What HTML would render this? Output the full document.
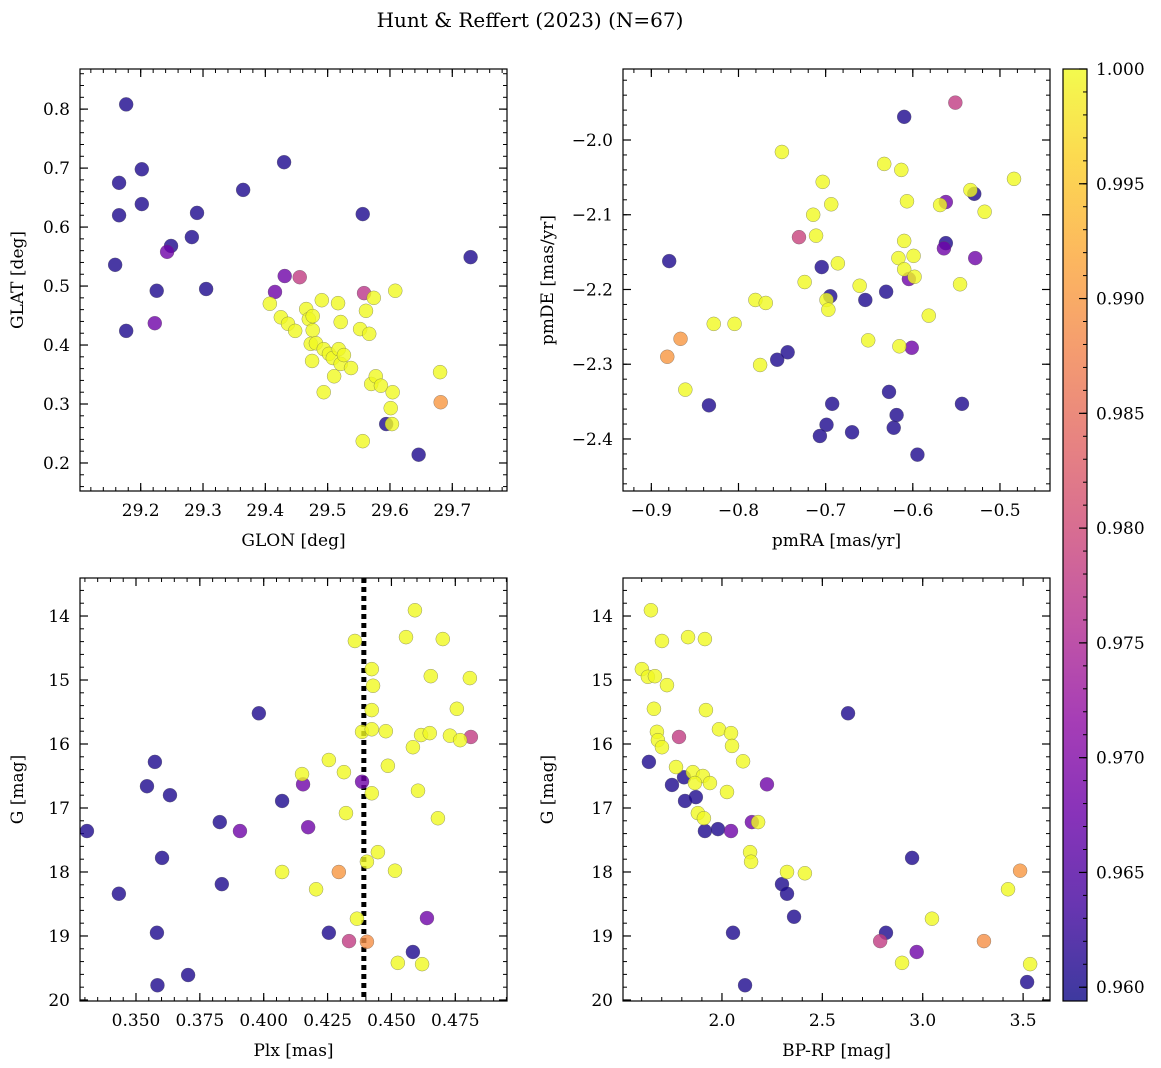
<!DOCTYPE html>
<html><head><meta charset="utf-8">
<style>
body{margin:0;background:#fff;}
svg{display:block;font-family:"DejaVu Serif","Liberation Serif",serif;}
</style></head>
<body>
<svg id="fig" width="1161" height="1068" viewBox="0 0 1161 1068">
<text x="530" y="27" text-anchor="middle" font-size="20">Hunt &amp; Reffert (2023) (N=67)</text>
</svg>
<script>
// ---- data ----
const p1_glon=[29.1767,29.1653,29.2018,29.1653,29.2018,29.159,29.1767,29.2257,29.2487,29.2821,29.2904,29.305,29.3644,29.4301,29.5563,29.5939,29.646,29.7294,29.2424,29.2226,29.4155,29.4311,29.4552,29.5584,29.6814,29.4072,29.4249,29.4364,29.4479,29.4656,29.4698,29.476,29.476,29.4729,29.475,29.4812,29.4937,29.4906,29.5167,29.5021,29.5083,29.4937,29.5104,29.5177,29.5209,29.5209,29.5261,29.5375,29.5521,29.5615,29.574,29.5667,29.5699,29.5772,29.5855,29.5563,29.6032,29.6043,29.6012,29.6085,29.6804];
const p1_glat=[0.808,0.675,0.698,0.620,0.639,0.536,0.424,0.492,0.568,0.583,0.624,0.495,0.663,0.710,0.622,0.266,0.214,0.549,0.558,0.437,0.490,0.517,0.515,0.488,0.303,0.470,0.447,0.436,0.424,0.461,0.444,0.449,0.425,0.402,0.373,0.403,0.393,0.476,0.471,0.385,0.378,0.320,0.347,0.393,0.439,0.368,0.383,0.361,0.427,0.458,0.480,0.419,0.334,0.347,0.331,0.237,0.266,0.320,0.293,0.492,0.354];
const p1_prob=[0.9605,0.9605,0.9605,0.9605,0.9605,0.9605,0.9605,0.9605,0.9605,0.9605,0.9605,0.9605,0.9605,0.9605,0.9605,0.9605,0.9605,0.9605,0.968,0.968,0.968,0.968,0.978,0.977,0.99,1,1,1,1,1,1,1,1,1,1,1,1,1,1,1,1,1,1,1,1,1,1,1,1,1,1,1,1,1,1,1,1,1,1,1,1];
const p2_pmra=[-0.6099,-0.8795,-0.8339,-0.7556,-0.7436,-0.7045,-0.6947,-0.6545,-0.6219,-0.6186,-0.6273,-0.5947,-0.6306,-0.5436,-0.5295,-0.5621,-0.6925,-0.699,-0.7066,-0.6697,-0.5643,-0.5284,-0.5621,-0.6012,-0.6045,-0.5512,-0.7306,-0.8665,-0.8817,-0.7502,-0.7034,-0.6936,-0.7143,-0.711,-0.7241,-0.686,-0.699,-0.6969,-0.6328,-0.6132,-0.6067,-0.6099,-0.6165,-0.6099,-0.5991,-0.598,-0.5687,-0.5339,-0.5176,-0.5458,-0.5817,-0.4839,-0.7806,-0.7687,-0.7752,-0.8284,-0.8045,-0.861,-0.661,-0.6512,-0.6154];
const p2_pmde=[-1.969,-2.162,-2.355,-2.294,-2.284,-2.170,-2.209,-2.214,-2.385,-2.368,-2.337,-2.421,-2.203,-2.353,-2.072,-2.138,-2.353,-2.381,-2.396,-2.391,-2.145,-2.158,-2.083,-2.278,-2.186,-1.950,-2.130,-2.266,-2.290,-2.016,-2.056,-2.086,-2.100,-2.128,-2.190,-2.165,-2.214,-2.227,-2.032,-2.040,-2.082,-2.135,-2.158,-2.173,-2.155,-2.183,-2.087,-2.067,-2.096,-2.193,-2.235,-2.052,-2.214,-2.218,-2.301,-2.246,-2.246,-2.334,-2.195,-2.268,-2.276];
const p2_prob=[0.9605,0.9605,0.9605,0.9605,0.9605,0.9605,0.9605,0.9605,0.9605,0.9605,0.9605,0.9605,0.9605,0.9605,0.9605,0.9605,0.9605,0.9605,0.9605,0.9605,0.968,0.968,0.968,0.968,0.968,0.978,0.979,0.99,0.99,1,1,1,1,1,1,1,1,1,1,1,1,1,1,1,1,1,1,1,1,1,1,1,1,1,1,1,1,1,1,1,1];
const p3_plx=[0.3308,0.3433,0.3574,0.3543,0.3633,0.3602,0.3582,0.3584,0.3704,0.3828,0.3836,0.3981,0.4072,0.4255,0.4584,0.4639,0.3907,0.4154,0.4174,0.4385,0.4334,0.4811,0.4294,0.4404,0.4072,0.415,0.4205,0.4255,0.4314,0.4322,0.4357,0.4365,0.4385,0.4404,0.4423,0.4428,0.4423,0.4423,0.4423,0.4447,0.4478,0.4486,0.4514,0.4525,0.4557,0.4592,0.4584,0.4604,0.4616,0.462,0.465,0.4654,0.4701,0.4682,0.4729,0.4756,0.4769,0.4807];
const p3_g=[17.36,18.34,16.28,16.66,16.80,17.78,18.95,19.77,19.61,17.22,18.19,15.52,16.89,18.95,19.25,18.72,17.36,16.63,17.30,16.59,19.08,15.89,18.0,19.09,18.0,16.47,18.27,16.25,16.44,17.08,14.39,18.73,15.81,17.84,14.83,15.09,15.47,15.77,16.77,17.69,15.80,16.34,17.98,19.42,14.33,13.91,16.05,16.73,15.86,19.44,15.83,14.94,14.36,17.16,15.87,15.45,15.94,14.97];
const p3_prob=[0.9605,0.9605,0.9605,0.9605,0.9605,0.9605,0.9605,0.9605,0.9605,0.9605,0.9605,0.9605,0.9605,0.9605,0.9605,0.968,0.968,0.968,0.968,0.968,0.978,0.978,0.99,0.989,1,1,1,1,1,1,1,1,1,1,1,1,1,1,1,1,1,1,1,1,1,1,1,1,1,1,1,1,1,1,1,1,1,1];
const p4_bprp=[1.636,1.751,1.811,1.816,1.87,1.915,1.98,2.299,2.324,2.359,2.055,2.115,2.628,2.817,2.947,3.52,2.045,2.149,2.224,2.97,1.786,2.788,3.485,3.305,1.646,1.701,1.831,1.915,1.601,1.631,1.666,1.726,1.661,1.676,1.681,1.701,1.771,1.855,1.905,1.865,1.94,1.92,1.985,2.045,2.05,2.105,2.025,1.88,1.91,2.18,2.14,2.145,2.324,2.413,3.425,3.046,2.897,3.535];
const p4_g=[16.28,16.64,16.52,16.89,16.83,17.36,17.33,18.19,18.34,18.70,18.95,19.77,15.52,18.95,17.78,19.72,17.36,17.22,16.63,19.25,15.89,19.08,17.98,19.08,13.91,14.39,14.33,14.36,14.83,14.95,14.94,15.08,15.45,15.81,15.94,16.05,16.36,16.44,16.5,16.61,16.61,15.47,15.77,15.83,16.03,16.27,16.75,17.08,17.16,17.22,17.69,17.84,18.0,18.02,18.27,18.73,19.42,19.44];
const p4_prob=[0.9605,0.9605,0.9605,0.9605,0.9605,0.9605,0.9605,0.9605,0.9605,0.9605,0.9605,0.9605,0.9605,0.9605,0.9605,0.9605,0.968,0.968,0.968,0.968,0.978,0.978,0.99,0.989,1,1,1,1,1,1,1,1,1,1,1,1,1,1,1,1,1,1,1,1,1,1,1,1,1,1,1,1,1,1,1,1,1,1];
const cbar_ticks=[0.960,0.965,0.970,0.975,0.980,0.985,0.990,0.995,1.000];
const plx_line=0.4392;
const vmin=0.9594, vmax=1.0;

const NS='http://www.w3.org/2000/svg';
const fig=document.getElementById('fig');
function mk(tag,attrs,parent){const e=document.createElementNS(NS,tag);for(const k in attrs)e.setAttribute(k,attrs[k]);(parent||fig).appendChild(e);return e;}
const stops=['#0d0887','#41049d','#6a00a8','#8f0da4','#b12a90','#cc4778','#e16462','#f2844b','#fca636','#fcce25','#f0f921'];
function hex(h){return [1,3,5].map(i=>parseInt(h.substr(i,2),16));}
function plasma(v){let t=Math.max(0,Math.min(1,(v-vmin)/(vmax-vmin)))*10;const i=Math.min(9,Math.floor(t));const f=t-i;const a=hex(stops[i]),b=hex(stops[i+1]);return 'rgb('+a.map((c,k)=>Math.round(c+(b[k]-c)*f)).join(',')+')';}

const panels=[
 {name:'glon-glat',x0:80,x1:507,y0:69,y1:491,xmin:29.1026,xmax:29.7878,ymin:0.1525,ymax:0.868,xmaj:0.1,xmin_:0.02,ymaj:0.1,ymin_:0.02,xd:1,yd:1,xs:p1_glon,ys:p1_glat,cs:p1_prob,xl:'GLON [deg]',yl:'GLAT [deg]',inv:false,xfirst:29.2,xlast:29.7,yfirst:0.2,ylast:0.8},
 {name:'pmra-pmde',x0:623,x1:1050,y0:69,y1:491,xmin:-0.9325,xmax:-0.4426,ymin:-2.4696,ymax:-1.905,xmaj:0.1,xmin_:0.02,ymaj:0.1,ymin_:0.02,xd:1,yd:1,xs:p2_pmra,ys:p2_pmde,cs:p2_prob,xl:'pmRA [mas/yr]',yl:'pmDE [mas/yr]',inv:false,xfirst:-0.9,xlast:-0.5,yfirst:-2.4,ylast:-2.0},
 {name:'plx-g',x0:80,x1:507,y0:578,y1:1001,xmin:0.32808,xmax:0.49524,ymin:13.406,ymax:20.016,xmaj:0.025,xmin_:0.005,ymaj:1,ymin_:0.2,xd:3,yd:0,xs:p3_plx,ys:p3_g,cs:p3_prob,xl:'Plx [mas]',yl:'G [mag]',inv:true,xfirst:0.35,xlast:0.475,yfirst:14,ylast:20},
 {name:'bprp-g',x0:623,x1:1050,y0:578,y1:1001,xmin:1.507,xmax:3.634,ymin:13.406,ymax:20.016,xmaj:0.5,xmin_:0.1,ymaj:1,ymin_:0.2,xd:1,yd:0,xs:p4_bprp,ys:p4_g,cs:p4_prob,xl:'BP-RP [mag]',yl:'G [mag]',inv:true,xfirst:2.0,xlast:3.5,yfirst:14,ylast:20}
];
function fmt(v,d){let s=v.toFixed(d);return s.replace('-','\u2212');}
panels.forEach((p,pi)=>{
 const g=mk('g',{});
 
 
 const sx=v=>p.x0+(v-p.xmin)/(p.xmax-p.xmin)*(p.x1-p.x0);
 const sy=v=>p.inv? p.y0+(v-p.ymin)/(p.ymax-p.ymin)*(p.y1-p.y0) : p.y1-(v-p.ymin)/(p.ymax-p.ymin)*(p.y1-p.y0);
 for(let v=Math.ceil(p.xmin/p.xmin_)*p.xmin_; v<=p.xmax; v+=p.xmin_){const x=sx(v);mk('line',{x1:x,x2:x,y1:p.y1,y2:p.y1-4,stroke:'#000','stroke-width':1},g);mk('line',{x1:x,x2:x,y1:p.y0,y2:p.y0+4,stroke:'#000','stroke-width':1},g);}
 for(let v=Math.ceil(p.ymin/p.ymin_)*p.ymin_; v<=p.ymax; v+=p.ymin_){const y=sy(v);mk('line',{x1:p.x0,x2:p.x0+4,y1:y,y2:y,stroke:'#000','stroke-width':1},g);mk('line',{x1:p.x1,x2:p.x1-4,y1:y,y2:y,stroke:'#000','stroke-width':1},g);}
 const nx=Math.round((p.xlast-p.xfirst)/p.xmaj);
 for(let i=0;i<=nx;i++){const v=p.xfirst+i*p.xmaj;const x=sx(v);
  mk('line',{x1:x,x2:x,y1:p.y1,y2:p.y1-8,stroke:'#000','stroke-width':1.2},g);mk('line',{x1:x,x2:x,y1:p.y0,y2:p.y0+8,stroke:'#000','stroke-width':1.2},g);
  const t=mk('text',{x:x,y:p.y1+25,'text-anchor':'middle','font-size':17},g);t.textContent=fmt(v,p.xd);
  
  }
 const ny=Math.round((p.ylast-p.yfirst)/p.ymaj);
 for(let i=0;i<=ny;i++){const v=p.yfirst+i*p.ymaj;const y=sy(v);
  mk('line',{x1:p.x0,x2:p.x0+8,y1:y,y2:y,stroke:'#000','stroke-width':1.2},g);mk('line',{x1:p.x1,x2:p.x1-8,y1:y,y2:y,stroke:'#000','stroke-width':1.2},g);
  const t=mk('text',{x:p.x0-10,y:y+6,'text-anchor':'end','font-size':17},g);t.textContent=fmt(v,p.yd);
  
  }
 if(pi===2){const x=sx(plx_line);const l=mk('line',{x1:x,x2:x,y1:p.y0,y2:p.y1,stroke:'#000','stroke-width':5,'stroke-dasharray':'5,4'},g);
  
  }
 for(let i=0;i<p.xs.length;i++){
  const c=mk('circle',{cx:sx(p.xs[i]),cy:sy(p.ys[i]),r:7,fill:plasma(p.cs[i]),'fill-opacity':0.8,stroke:'#555','stroke-opacity':0.6,'stroke-width':0.5},g);
  
  
 }
 const fr=mk('rect',{x:p.x0,y:p.y0,width:p.x1-p.x0,height:p.y1-p.y0,fill:'none',stroke:'#000','stroke-width':1.2},g);
 
 
 const xl=mk('text',{x:(p.x0+p.x1)/2,y:p.y1+55,'text-anchor':'middle','font-size':17},g);xl.textContent=p.xl;
 
 
 const cy=(p.y0+p.y1)/2, cx=p.x0-(pi%2===0?57:70);
 const yl=mk('text',{x:cx,y:cy,'text-anchor':'middle','font-size':17,transform:'rotate(-90 '+cx+' '+cy+')'},g);yl.textContent=p.yl;
 
 
});
const cb=mk('g',{});


const defs=mk('defs',{},cb);const lg=mk('linearGradient',{id:'pl',x1:0,y1:1,x2:0,y2:0},defs);
stops.forEach((s,i)=>mk('stop',{offset:i/10,'stop-color':s,'stop-opacity':0.8},lg));
const cbx0=1063,cbx1=1087,cby0=69,cby1=1001;
mk('rect',{x:cbx0,y:cby0,width:cbx1-cbx0,height:cby1-cby0,fill:'url(#pl)',stroke:'#000','stroke-width':1.2},cb);
const cy_=v=>cby1-(v-vmin)/(vmax-vmin)*(cby1-cby0);
for(let v=0.960;v<=1.0001;v+=0.001){const y=cy_(v);mk('line',{x1:cbx1,x2:cbx1-4,y1:y,y2:y,stroke:'#000'},cb);}
cbar_ticks.forEach(v=>{const y=cy_(v);mk('line',{x1:cbx1,x2:cbx1-8,y1:y,y2:y,stroke:'#000','stroke-width':1.2},cb);
 const t=mk('text',{x:cbx1+9,y:y+6,'font-size':17},cb);t.textContent=v.toFixed(3);
 
 });
</script>
</body></html>
